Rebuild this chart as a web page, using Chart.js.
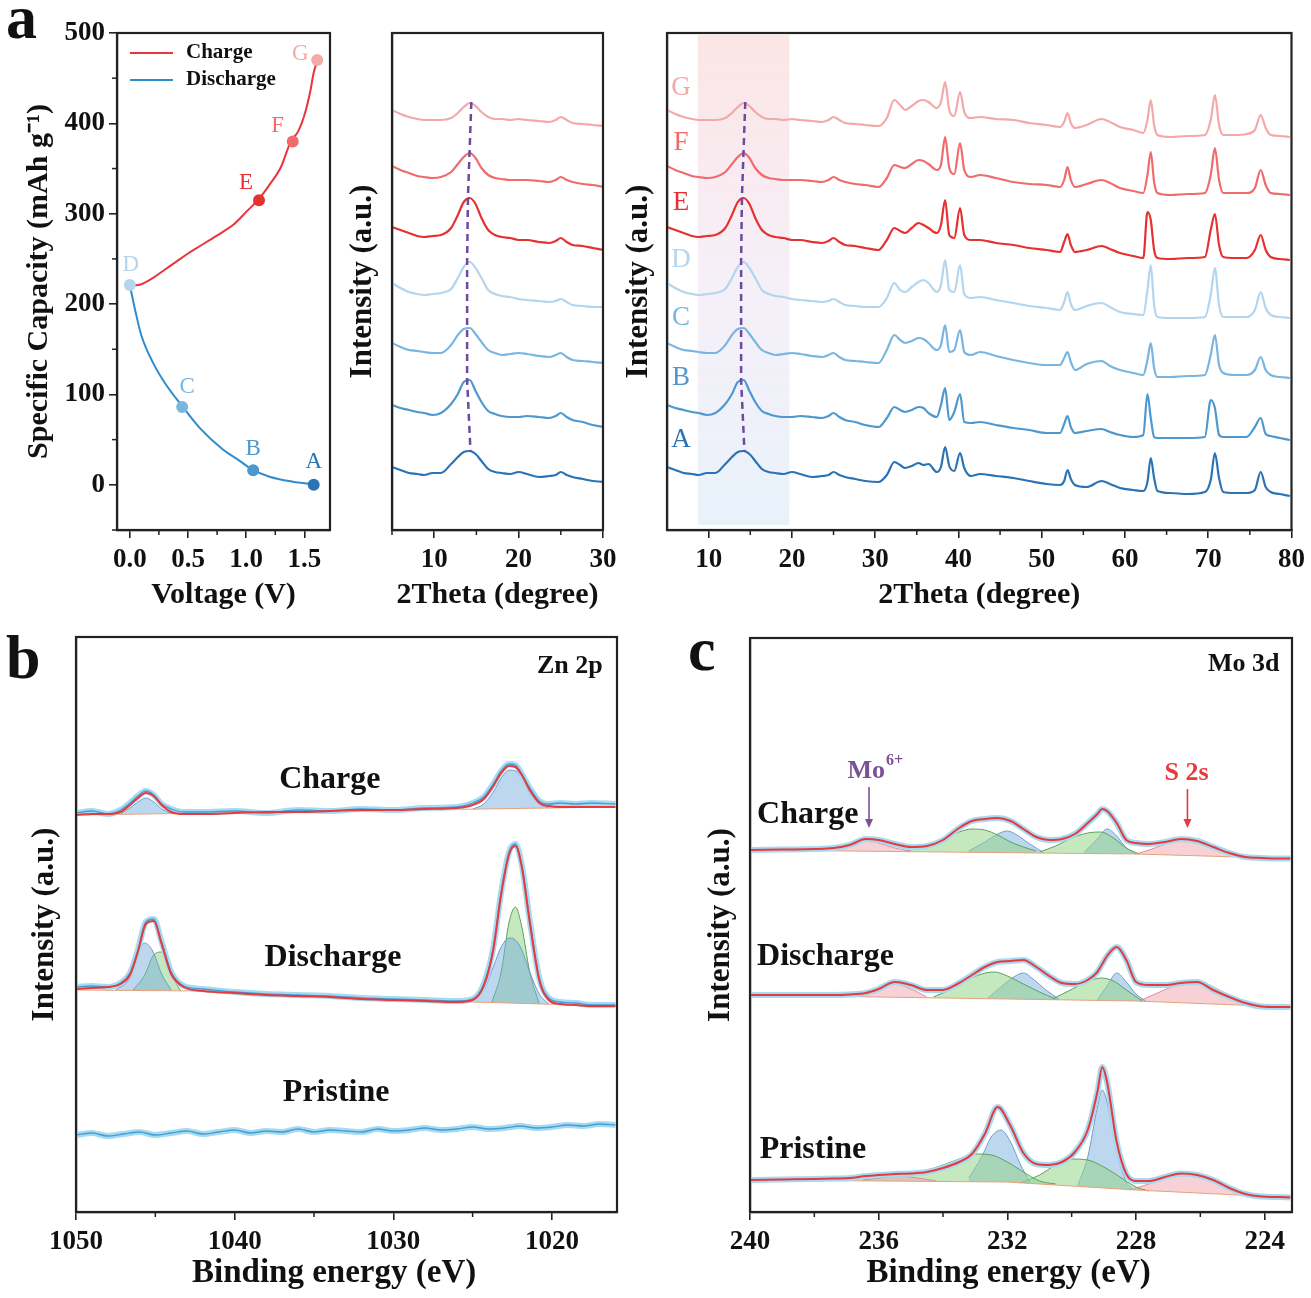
<!DOCTYPE html>
<html>
<head>
<meta charset="utf-8">
<script src="https://cdn.jsdelivr.net/npm/chart.js@4.4.1/dist/chart.umd.min.js"></script>
<style>
  body { margin: 0; background: #fff; }
  #fig { position: relative; width: 1311px; height: 1298px; overflow: hidden; background: #fff; }
  .pane { position: absolute; }
  .tag { position: absolute; font: bold 62px 'Liberation Serif', 'Times New Roman', serif; line-height: 1; color: #111; }
</style>
</head>
<body>
<div id="fig">
  <div class="pane" style="left:0;top:0"><canvas id="capChart" width="340" height="620"></canvas></div>
  <div class="pane" style="left:340px;top:0"><canvas id="xrdNarrow" width="285" height="620"></canvas></div>
  <div class="pane" style="left:620px;top:0"><canvas id="xrdWide" width="691" height="620"></canvas></div>
  <div class="pane" style="left:0;top:620px"><canvas id="znChart" width="650" height="678"></canvas></div>
  <div class="pane" style="left:690px;top:620px"><canvas id="moChart" width="621" height="678"></canvas></div>
  <div class="tag" style="left:6px;top:-14px">a</div>
  <div class="tag" style="left:6px;top:626px">b</div>
  <div class="tag" style="left:688px;top:618px">c</div>
</div>
<script>
// ---------- a: specific capacity vs voltage ----------
const vCharge = [0, 0.1, 0.2, 0.3, 0.4, 0.5, 0.6, 0.7, 0.8, 0.9, 1.0, 1.1, 1.2, 1.3, 1.38, 1.45, 1.5, 1.55, 1.58, 1.61];
const capCharge = [220, 222, 229, 238, 247, 256, 264, 272, 280, 289, 302, 315, 332, 352, 379, 392, 409, 435, 456, 469];
const vDischarge = [0, 0.05, 0.1, 0.2, 0.3, 0.45, 0.6, 0.8, 0.95, 1.05, 1.2, 1.4, 1.58];
const capDischarge = [221, 191, 165, 135, 113, 87, 63, 39, 26, 17, 9, 3.5, 0.5];
const stateNames = ['A', 'B', 'C', 'D', 'E', 'F', 'G'];
const stateV = [1.58, 1.06, 0.45, 0, 1.11, 1.40, 1.61];
const stateCap = [0, 16, 86, 221, 315, 380, 470];
const voltTicks = [0, 0.5, 1.0, 1.5];
const capTicks = [0, 100, 200, 300, 400, 500];

// ---------- a: XRD patterns (A..G), intensity in a.u. ----------
const twoTheta = [5, 6, 7, 8, 8.8, 9.8, 10.8, 12, 12.8, 13.5,
  14.2, 14.9, 15.6, 16.4, 17.2, 18, 19, 20, 21, 22.4,
  23.6, 24.4, 25, 25.7, 26.4, 27.6, 28.8, 30.4, 31.4, 32.3,
  33, 33.6, 34.4, 35.2, 35.8, 36.4, 37.4, 37.9, 38.4, 38.9,
  39.5, 40.2, 40.7, 41.5, 42.6, 44.5, 46.6, 48.5, 50.6, 52.2,
  52.7, 53.1, 53.5, 54, 55.4, 57.2, 58.2, 59.4, 61, 62.2,
  62.7, 63.1, 63.5, 63.9, 65.5, 67.5, 69.6, 70.3, 70.8, 71.3,
  71.8, 73.2, 74.6, 75.6, 76.3, 76.9, 77.5, 78.6, 79.8];
const xrdA = [63, 60, 57, 56, 55, 57, 57, 66, 73, 78,
  79, 76, 69, 61, 58, 57, 56, 58, 56, 53,
  54, 55, 58, 55, 53, 51, 49, 48, 55, 68,
  65, 62, 64, 67, 65, 66, 58, 63, 83, 64,
  59, 77, 62, 54, 56, 54, 52, 49, 46, 45,
  49, 60, 51, 45, 43, 49, 46, 42, 40, 39,
  48, 72, 52, 39, 37, 36, 38, 50, 77, 52,
  38, 37, 37, 40, 58, 43, 38, 36, 34];
const xrdB = [125, 122, 120, 118, 117, 115, 117, 126, 136, 148,
  150, 139, 128, 119, 116, 114, 113, 113, 114, 113,
  112, 114, 117, 113, 110, 108, 105, 103, 112, 123,
  120, 118, 120, 123, 122, 117, 113, 125, 142, 110,
  118, 136, 108, 107, 108, 105, 102, 100, 97, 97,
  106, 114, 103, 97, 99, 101, 98, 95, 93, 95,
  136, 112, 93, 92, 92, 92, 93, 130, 122, 95,
  93, 93, 93, 103, 112, 96, 94, 92, 90];
const xrdC = [187, 183, 180, 179, 178, 177, 177, 185, 195, 201,
  202, 196, 188, 180, 177, 175, 176, 177, 176, 174,
  173, 175, 177, 173, 170, 169, 168, 167, 180, 195,
  190, 187, 189, 192, 191, 187, 180, 185, 205, 178,
  180, 200, 178, 175, 178, 174, 170, 167, 165, 165,
  172, 178, 168, 160, 166, 169, 164, 160, 157, 155,
  170, 187, 162, 153, 153, 154, 155, 175, 195, 165,
  157, 155, 155, 160, 173, 160, 155, 153, 152];
const xrdD = [247, 242, 238, 236, 235, 236, 237, 241, 252, 263,
  268, 262, 252, 240, 236, 234, 233, 231, 230, 229,
  228, 229, 231, 228, 225, 224, 223, 223, 232, 247,
  240, 238, 243, 248, 250, 247, 238, 245, 270, 240,
  238, 265, 236, 232, 233, 230, 227, 224, 222, 220,
  228, 238, 226, 220, 224, 227, 223, 218, 216, 215,
  240, 265, 225, 213, 212, 212, 213, 235, 262, 225,
  213, 213, 213, 220, 238, 222, 215, 213, 212];
const xrdE = [303, 300, 297, 294, 293, 294, 295, 302, 315, 328,
  332, 326, 312, 300, 295, 293, 292, 290, 290, 288,
  287, 289, 292, 288, 285, 284, 282, 280, 290, 302,
  299, 297, 302, 307, 305, 302, 297, 305, 330, 295,
  292, 322, 295, 290, 290, 287, 285, 282, 280, 278,
  288, 296, 285, 278, 280, 284, 281, 277, 274, 272,
  318, 310, 280, 272, 271, 272, 273, 300, 316, 285,
  273, 272, 272, 280, 295, 280, 273, 271, 270];
const xrdF = [364, 360, 357, 354, 353, 352, 353, 358, 366, 373,
  377, 372, 362, 355, 352, 351, 350, 350, 350, 349,
  348, 350, 353, 350, 348, 346, 345, 343, 352, 365,
  363, 362, 366, 370, 369, 366, 360, 365, 393, 362,
  356, 387, 360, 353, 355, 352, 348, 346, 345, 343,
  350, 363, 350, 343, 346, 350, 347, 342, 339, 337,
  355, 378, 348, 337, 335, 336, 337, 355, 382, 350,
  337, 337, 337, 342, 360, 345, 337, 336, 335];
const xrdG = [420, 416, 413, 411, 410, 410, 410, 412, 417, 423,
  427, 424, 418, 413, 411, 411, 410, 411, 410, 409,
  408, 410, 413, 410, 407, 406, 405, 404, 412, 430,
  425, 420, 424, 429, 430, 428, 422, 428, 448, 420,
  414, 438, 418, 412, 413, 411, 410, 407, 405, 403,
  408, 417, 407, 402, 405, 411, 408, 403, 400, 397,
  410, 430, 405, 395, 393, 394, 395, 410, 435, 405,
  395, 395, 396, 400, 415, 402, 395, 394, 393];
const peakLineX = [14.4, 14.0, 13.9, 13.9, 14.3];
const peakLineY = [428, 333, 268, 150, 79];
const thetaTicksNarrow = [10, 20, 30];
const thetaTicksWide = [10, 20, 30, 40, 50, 60, 70, 80];

// ---------- b: Zn 2p ----------
const znX = [1050, 1049, 1048, 1047.2, 1046.6, 1046.1, 1045.6, 1045.1, 1044.6, 1044,
  1043.2, 1042, 1040, 1038, 1036, 1034, 1032, 1030, 1028, 1026,
  1025, 1024.3, 1023.7, 1023.2, 1022.7, 1022.3, 1021.9, 1021.4, 1020.8, 1020.2,
  1019.5, 1018.5, 1017.5, 1016];
const znChargeFit = [397, 398, 398, 400, 407, 414, 419, 416, 407, 400,
  398, 398, 399, 400, 400, 401, 402, 402, 403, 404,
  407, 413, 426, 439, 446, 445, 437, 422, 409, 406,
  405, 405, 405, 405];
const znChargeRaw = [399, 401, 398, 402, 409, 416, 421, 417, 408, 403,
  400, 400, 401, 399, 402, 401, 403, 402, 404, 405,
  409, 415, 428, 441, 448, 447, 438, 424, 411, 408,
  409, 408, 409, 408];
const znDischargeFit = [223, 224, 225, 228, 237, 260, 288, 291, 268, 238,
  225, 221, 219, 217, 216, 215, 213, 212, 211, 210,
  212, 226, 262, 318, 358, 366, 345, 290, 232, 212,
  208, 207, 206, 206];
const znDischargeRaw = [225, 226, 225, 229, 239, 262, 290, 293, 270, 240,
  226, 223, 220, 218, 217, 216, 214, 213, 212, 211,
  213, 228, 264, 320, 360, 368, 347, 292, 234, 214,
  210, 209, 207, 207];
const znPristineX = [1050, 1049, 1048, 1047, 1046, 1045, 1044, 1043, 1042, 1041,
  1040, 1039, 1038, 1037, 1036, 1035, 1034, 1033, 1032, 1031,
  1030, 1029, 1028, 1027, 1026, 1025, 1024, 1023, 1022, 1021,
  1020, 1019, 1018, 1017, 1016];
const znPristineRaw = [77, 79, 76, 78, 80, 77, 79, 81, 78, 80,
  82, 79, 81, 80, 83, 80, 82, 81, 80, 83,
  81, 82, 84, 82, 83, 85, 83, 84, 86, 84,
  85, 87, 86, 88, 87];
const znChgBaseX = [1050, 1016];
const znChgBaseY = [397, 405];
const znChgBlueLX = [1047.2, 1046.6, 1046.1, 1045.6, 1045.1, 1044.6, 1044];
const znChgBlueLY = [398, 404, 410, 414, 410, 403, 399];
const znChgBlueRX = [1025, 1024.3, 1023.7, 1023.2, 1022.7, 1022.3, 1021.9, 1021.4, 1020.8, 1020.2];
const znChgBlueRY = [403, 408, 420, 434, 442, 441, 433, 419, 408, 404];
const znDisBaseX = [1050, 1042, 1025, 1016];
const znDisBaseY = [222, 221, 210, 206];
const znDisBlueLX = [1047.5, 1046.6, 1046.1, 1045.7, 1045.2, 1044.6, 1044];
const znDisBlueLY = [222, 234, 256, 269, 262, 238, 222];
const znDisGreenLX = [1046.4, 1045.7, 1045.1, 1044.6, 1044.1, 1043.4];
const znDisGreenLY = [222, 236, 257, 260, 240, 221];
const znDisBlueRX = [1025, 1024.3, 1023.7, 1023.2, 1022.7, 1022.3, 1021.9, 1021.4, 1020.8, 1020.2];
const znDisBlueRY = [210, 222, 245, 265, 274, 272, 262, 240, 218, 208];
const znDisGreenRX = [1023.8, 1023.2, 1022.7, 1022.3, 1021.9, 1021.4, 1020.8];
const znDisGreenRY = [209, 240, 290, 305, 285, 240, 208];
const znTicks = [1020, 1030, 1040, 1050];

// ---------- c: Mo 3d ----------
const moX = [240, 239, 238, 237.4, 236.9, 236.4, 236, 235.5, 235, 234.5,
  234, 233.5, 233.1, 232.7, 232.3, 231.9, 231.5, 231.1, 230.7, 230.3,
  229.9, 229.5, 229.2, 229.05, 228.9, 228.6, 228.3, 228, 227.6, 227.1,
  226.6, 226.1, 225.6, 225.1, 224.6, 224.1, 223.6, 223.2];
const moChargeFit = [362, 362.5, 363, 364, 367, 373, 372, 368, 365, 366,
  372, 384, 391, 393, 394, 391, 383, 375, 372, 373,
  378, 389, 398, 403, 401, 389, 372, 369, 368, 370,
  373, 371, 365, 359, 355, 354, 353.5, 353.5];
const moDischargeFit = [217, 217, 217, 217, 217.5, 219, 223, 230, 227, 222,
  222, 229, 237, 245, 250, 251, 252, 245, 236, 229,
  228, 232, 240, 248, 256, 265, 252, 230, 227, 227,
  229, 230, 222, 215, 209, 205.5, 205, 205];
const moPristineFit = [32, 32.5, 33, 33.5, 34, 36, 37, 38, 38.5, 40,
  44, 50, 58, 78, 105, 86, 59, 48, 47, 50,
  60, 82, 120, 145, 130, 70, 38, 31, 31, 35,
  38.5, 37, 32, 24, 18, 15.5, 15, 14.5];
const moChgBaseX = [240, 228, 223.2];
const moChgBaseY = [362, 358, 353.5];
const moChgMoX = [237.3, 236.8, 236.4, 236, 235.5, 235];
const moChgMoY = [363, 367, 371, 369, 364, 361];
const moChgG1X = [235.2, 234.5, 234, 233.5, 233.1, 232.7, 232.3, 231.9, 231.5, 231.1];
const moChgG1Y = [361, 366, 373, 380, 383, 382, 377, 370, 365, 361];
const moChgB1X = [233.2, 232.7, 232.3, 232, 231.7, 231.3, 230.9];
const moChgB1Y = [361, 370, 378, 381, 377, 368, 360];
const moChgG2X = [231, 230.5, 230, 229.5, 229.1, 228.7, 228.3, 227.9];
const moChgG2Y = [360, 366, 374, 379, 380, 374, 364, 358];
const moChgB2X = [229.6, 229.2, 228.9, 228.6, 228.3, 228];
const moChgB2Y = [360, 373, 383, 376, 364, 358];
const moChgSX = [228, 227.5, 227, 226.5, 226, 225.5, 225, 224.6];
const moChgSY = [358, 363, 369, 373, 372, 366, 360, 356];
const moDisBaseX = [240, 228, 223.2];
const moDisBaseY = [217, 211, 205];
const moDisMoX = [236.6, 236, 235.5, 235, 234.5];
const moDisMoY = [216, 222, 228, 223, 215];
const moDisG1X = [234.3, 233.8, 233.3, 232.8, 232.4, 232, 231.5, 231, 230.5];
const moDisG1Y = [215, 222, 231, 238, 240, 236, 228, 220, 213];
const moDisB1X = [232.6, 232.2, 231.8, 231.5, 231.2, 230.8, 230.4];
const moDisB1Y = [214, 225, 235, 239, 233, 222, 213];
const moDisG2X = [230.6, 230.1, 229.6, 229.1, 228.7, 228.3, 227.8];
const moDisG2Y = [213, 221, 229, 234, 231, 222, 211];
const moDisB2X = [229.2, 228.9, 228.6, 228.3, 228, 227.7];
const moDisB2Y = [212, 226, 239, 230, 218, 211];
const moDisSX = [227.9, 227.4, 226.9, 226.4, 225.9, 225.4, 224.9, 224.5];
const moDisSY = [211, 218, 225, 230, 229, 222, 213, 208];
const moPriBaseX = [240, 232, 228, 223.2];
const moPriBaseY = [32, 30, 22, 14.5];
const moPriMoX = [237.5, 236.5, 235.8, 235, 234.2];
const moPriMoY = [32, 35, 37, 35, 31];
const moPriG1X = [236.5, 235.5, 234.5, 234, 233.5, 233, 232.5, 232, 231.5, 231, 230.5];
const moPriG1Y = [32, 36, 42, 47, 53, 58, 57, 50, 40, 31, 28];
const moPriB1X = [233.2, 232.8, 232.5, 232.2, 231.9, 231.6, 231.3];
const moPriB1Y = [34, 55, 75, 82, 70, 48, 30];
const moPriG2X = [231.6, 231, 230.5, 230, 229.5, 229, 228.5, 228, 227.6];
const moPriG2Y = [29, 37, 47, 53, 52, 45, 35, 25, 21];
const moPriB2X = [229.8, 229.5, 229.2, 229.05, 228.9, 228.6, 228.3, 228.1];
const moPriB2Y = [27, 55, 105, 122, 110, 60, 30, 23];
const moPriSX = [228.2, 227.6, 227.1, 226.6, 226.1, 225.6, 225.1, 224.6, 224.3];
const moPriSY = [22, 28, 34, 38, 37, 31, 24, 19, 17];
const moTicks = [224, 228, 232, 236, 240];

// ---------- styling ----------
const serif = "'Liberation Serif', 'Times New Roman', serif";
const stateColors = ['#2a74b6', '#4c98cf', '#78b5e0', '#b3d5ee', '#e5312f', '#ef6b6c', '#f5a8a8'];
const compStyle = {
  blue: { fill: 'rgba(122,176,222,0.5)', line: '#6a9fd0' },
  green: { fill: 'rgba(150,214,138,0.55)', line: '#5aa060' },
  pink: { fill: 'rgba(240,164,172,0.5)', line: '#e48c96' }
};
Chart.defaults.font.family = serif;
Chart.defaults.color = '#111';

function pts(xs, ys) { return xs.map((x, i) => ({ x: x, y: ys[i] })); }

// box round the plot area
const framePlugin = {
  id: 'frame',
  afterDraw(chart) {
    const a = chart.chartArea, ctx = chart.ctx;
    ctx.save();
    ctx.strokeStyle = '#222';
    ctx.lineWidth = 2.2;
    ctx.strokeRect(a.left, a.top, a.right - a.left, a.bottom - a.top);
    ctx.restore();
  }
};

// short minor ticks
const minorPlugin = {
  id: 'minor',
  afterDraw(chart, args, o) {
    const ctx = chart.ctx, a = chart.chartArea;
    ctx.save();
    ctx.strokeStyle = '#222';
    ctx.lineWidth = 1.5;
    (o.x || []).forEach(v => {
      const px = chart.scales.x.getPixelForValue(v);
      ctx.beginPath(); ctx.moveTo(px, a.bottom); ctx.lineTo(px, a.bottom + 5); ctx.stroke();
    });
    (o.y || []).forEach(v => {
      const py = chart.scales.y.getPixelForValue(v);
      ctx.beginPath(); ctx.moveTo(a.left, py); ctx.lineTo(a.left - 5, py); ctx.stroke();
    });
    ctx.restore();
  }
};

// text labels and arrows placed in data coordinates
const notesPlugin = {
  id: 'notes',
  afterDatasetsDraw(chart, args, o) {
    const ctx = chart.ctx, sx = chart.scales.x, sy = chart.scales.y;
    (o.items || []).forEach(n => {
      const px = sx.getPixelForValue(n.x) + (n.dx || 0);
      const py = sy.getPixelForValue(n.y) + (n.dy || 0);
      ctx.save();
      ctx.fillStyle = n.color || '#111';
      ctx.strokeStyle = n.color || '#111';
      if (n.arrow) {
        const y2 = sy.getPixelForValue(n.arrow);
        ctx.lineWidth = 1.6;
        ctx.beginPath(); ctx.moveTo(px, py); ctx.lineTo(px, y2 - 6); ctx.stroke();
        ctx.beginPath(); ctx.moveTo(px - 4, y2 - 9); ctx.lineTo(px, y2); ctx.lineTo(px + 4, y2 - 9); ctx.closePath(); ctx.fill();
        ctx.restore();
        return;
      }
      ctx.font = n.font;
      ctx.textBaseline = 'middle';
      if (n.sup) {
        const w1 = ctx.measureText(n.text).width;
        ctx.font = n.supFont;
        const w2 = ctx.measureText(n.sup).width;
        const x0 = px - (w1 + w2) / 2;
        ctx.textAlign = 'left';
        ctx.font = n.font;
        ctx.fillText(n.text, x0, py);
        ctx.font = n.supFont;
        ctx.fillText(n.sup, x0 + w1 + 1, py - 10);
      } else {
        ctx.textAlign = n.align || 'center';
        ctx.fillText(n.text, px, py);
      }
      ctx.restore();
    });
  }
};

// legend inside panel a (capacity)
const capLegendPlugin = {
  id: 'capLegend',
  afterDraw(chart) {
    const ctx = chart.ctx, a = chart.chartArea;
    const rows = [['Charge', '#e8343a', 20], ['Discharge', '#2f8ccd', 47]];
    ctx.save();
    ctx.font = 'bold 21px ' + serif;
    ctx.textBaseline = 'middle';
    rows.forEach(r => {
      ctx.strokeStyle = r[1];
      ctx.lineWidth = 2;
      ctx.beginPath(); ctx.moveTo(a.left + 13, a.top + r[2]); ctx.lineTo(a.left + 56, a.top + r[2]); ctx.stroke();
      ctx.fillStyle = '#111';
      ctx.fillText(r[0], a.left + 69, a.top + r[2]);
    });
    ctx.restore();
  }
};

// highlighted 2theta window in the wide XRD panel
const shadePlugin = {
  id: 'shade',
  beforeDatasetsDraw(chart, args, o) {
    if (!o.x0) return;
    const ctx = chart.ctx, sx = chart.scales.x, sy = chart.scales.y;
    const x0 = sx.getPixelForValue(o.x0), x1 = sx.getPixelForValue(o.x1);
    const y0 = sy.getPixelForValue(o.y1), y1 = sy.getPixelForValue(o.y0);
    const g = ctx.createLinearGradient(0, y0, 0, y1);
    g.addColorStop(0, 'rgba(250,212,212,0.6)');
    g.addColorStop(0.5, 'rgba(238,226,242,0.55)');
    g.addColorStop(1, 'rgba(218,234,248,0.6)');
    ctx.save();
    ctx.fillStyle = g;
    ctx.fillRect(x0, y0, x1 - x0, y1 - y0);
    ctx.restore();
  }
};

const allPlugins = [shadePlugin, framePlugin, minorPlugin, notesPlugin];

function xAxis(min, max, ticks, height, title, opts) {
  opts = opts || {};
  return {
    type: 'linear', min: min, max: max, reverse: !!opts.reverse,
    afterFit: s => { s.height = height; },
    afterBuildTicks: s => { s.ticks = ticks.map(v => ({ value: v })); },
    ticks: { font: { size: 27, weight: 'bold' }, color: '#111', padding: 6, maxRotation: 0,
      callback: opts.fmt || (v => String(v)) },
    grid: { drawOnChartArea: false, tickLength: 8, color: '#222', lineWidth: 1.6 },
    border: { color: '#222', width: 2.2 },
    title: { display: true, text: title, color: '#111', font: { size: opts.titleSize || 30, weight: 'bold' },
      padding: { top: 0, bottom: opts.titlePad || 6 } }
  };
}

function plainY(min, max, width, titlePad) {
  return {
    type: 'linear', min: min, max: max,
    afterFit: s => { s.width = width; },
    ticks: { display: false },
    grid: { display: false },
    border: { color: '#222', width: 2.2 },
    title: { display: true, text: 'Intensity (a.u.)', color: '#111', font: { size: 31, weight: 'bold' }, padding: { top: titlePad, bottom: 0 } }
  };
}

function baseOptions(padding) {
  return {
    responsive: false, animation: false, events: [],
    layout: { padding: padding },
    plugins: { legend: { display: false }, tooltip: { enabled: false } }
  };
}

// ---------- panel a, left ----------
(function () {
  const letterDx = [0, 0, 5, 1, -13, -15, -17];
  const letterDy = [-23, -21, -20, -20, -17, -15, -6];
  const opts = baseOptions({ top: 33, right: 10, left: 0, bottom: 0 });
  opts.scales = {
    x: xAxis(-0.11, 1.72, voltTicks, 90, 'Voltage (V)', { fmt: v => v.toFixed(1), titlePad: 7 }),
    y: {
      type: 'linear', min: -50, max: 500,
      afterFit: s => { s.width = 117; },
      afterBuildTicks: s => { s.ticks = capTicks.map(v => ({ value: v })); },
      ticks: { font: { size: 27, weight: 'bold' }, color: '#111', padding: 4 },
      grid: { drawOnChartArea: false, tickLength: 8, color: '#222', lineWidth: 1.6 },
      border: { color: '#222', width: 2.2 },
      title: { display: true, text: 'Specific Capacity (mAh g\u207B\u00B9)', color: '#111', font: { size: 30, weight: 'bold' }, padding: { top: 21, bottom: 0 } }
    }
  };
  opts.plugins.minor = { x: [0.25, 0.75, 1.25], y: [-50, 50, 150, 250, 350, 450] };
  opts.plugins.notes = {
    items: stateNames.map((n, i) => ({
      text: n, x: stateV[i], y: stateCap[i], dx: letterDx[i], dy: letterDy[i],
      color: stateColors[i], font: '23px ' + serif
    }))
  };
  new Chart(document.getElementById('capChart'), {
    type: 'line',
    data: {
      datasets: [
        { data: pts(stateV, stateCap), showLine: false, pointRadius: 6, pointBorderWidth: 0,
          pointBackgroundColor: stateColors, order: 0 },
        { data: pts(vCharge, capCharge), borderColor: '#e8343a', borderWidth: 2, pointRadius: 0,
          cubicInterpolationMode: 'monotone', order: 1 },
        { data: pts(vDischarge, capDischarge), borderColor: '#2f8ccd', borderWidth: 2, pointRadius: 0,
          cubicInterpolationMode: 'monotone', order: 1 }
      ]
    },
    options: opts,
    plugins: allPlugins.concat([capLegendPlugin])
  });
})();

// ---------- panel a, XRD ----------
const xrdCurves = [xrdA, xrdB, xrdC, xrdD, xrdE, xrdF, xrdG];
function xrdSets() {
  const sets = xrdCurves.map((ys, i) => ({
    data: pts(twoTheta, ys), borderColor: stateColors[i], borderWidth: 2.2, pointRadius: 0,
    cubicInterpolationMode: 'monotone', order: 2
  }));
  sets.push({ data: pts(peakLineX, peakLineY), borderColor: '#6c4a9e', borderDash: [7, 5],
    borderWidth: 2.5, pointRadius: 0, order: 1 });
  return sets;
}

(function () {
  const opts = baseOptions({ top: 33, right: 22, left: 0, bottom: 0 });
  opts.scales = {
    x: xAxis(5, 30, thetaTicksNarrow, 90, '2Theta (degree)', { titlePad: 7 }),
    y: plainY(0, 497, 52, 4)
  };
  opts.plugins.minor = { x: [5, 15, 25] };
  new Chart(document.getElementById('xrdNarrow'), {
    type: 'line', data: { datasets: xrdSets() }, options: opts, plugins: allPlugins
  });
})();

(function () {
  const opts = baseOptions({ top: 33, right: 19, left: 0, bottom: 0 });
  opts.scales = {
    x: xAxis(5, 80, thetaTicksWide, 90, '2Theta (degree)', { titlePad: 7 }),
    y: plainY(0, 497, 47, 0)
  };
  opts.plugins.minor = { x: [15, 25, 35, 45, 55, 65, 75] };
  opts.plugins.shade = { x0: 8.7, x1: 19.7, y0: 5, y1: 495 };
  const labelY = [90, 152, 212, 270, 327, 387, 442];
  opts.plugins.notes = {
    items: stateNames.map((n, i) => ({ text: n, x: 6.68, y: labelY[i], color: stateColors[i], font: '27px ' + serif }))
  };
  new Chart(document.getElementById('xrdWide'), {
    type: 'line', data: { datasets: xrdSets() }, options: opts, plugins: allPlugins
  });
})();

// ---------- XPS helpers ----------
function addSpectrum(sets, spec) {
  const baseIndex = sets.length;
  sets.push({ data: pts(spec.baseX, spec.baseY), borderColor: '#e7a27c', borderWidth: 1,
    pointRadius: 0, order: 6 });
  spec.comps.forEach(c => {
    const st = compStyle[c[2]];
    sets.push({ data: pts(c[0], c[1]), borderColor: st.line, borderWidth: 1, backgroundColor: st.fill,
      fill: baseIndex, pointRadius: 0, cubicInterpolationMode: 'monotone', order: 7 });
  });
  if (spec.rawY) {
    sets.push({ data: pts(spec.rawX, spec.rawY), borderColor: '#a5dbf2', borderWidth: 6, pointRadius: 0,
      cubicInterpolationMode: 'monotone', order: 3 });
    if (spec.inner) {
      sets.push({ data: pts(spec.rawX, spec.rawY), borderColor: '#4a9ad3', borderWidth: 1.3, pointRadius: 0,
        cubicInterpolationMode: 'monotone', order: 2 });
    }
  }
  if (spec.fitY) {
    sets.push({ data: pts(spec.fitX, spec.fitY), borderColor: '#e8393c', borderWidth: 2, pointRadius: 0,
      cubicInterpolationMode: 'monotone', order: 1 });
  }
}

// trailing spaces shift the centred axis title a little to the left, as in the figure
const bindingTitle = 'Binding energy (eV)\u00a0\u00a0\u00a0';

// ---------- panel b ----------
(function () {
  const sets = [];
  addSpectrum(sets, {
    baseX: znChgBaseX, baseY: znChgBaseY, rawX: znX, rawY: znChargeRaw, fitX: znX, fitY: znChargeFit, inner: true,
    comps: [[znChgBlueLX, znChgBlueLY, 'blue'], [znChgBlueRX, znChgBlueRY, 'blue']]
  });
  addSpectrum(sets, {
    baseX: znDisBaseX, baseY: znDisBaseY, rawX: znX, rawY: znDischargeRaw, fitX: znX, fitY: znDischargeFit, inner: true,
    comps: [[znDisBlueLX, znDisBlueLY, 'blue'], [znDisGreenLX, znDisGreenLY, 'green'],
      [znDisBlueRX, znDisBlueRY, 'blue'], [znDisGreenRX, znDisGreenRY, 'green']]
  });
  sets.push({ data: pts(znPristineX, znPristineRaw), borderColor: '#a5dbf2', borderWidth: 6, pointRadius: 0,
    cubicInterpolationMode: 'monotone', order: 3 });
  sets.push({ data: pts(znPristineX, znPristineRaw), borderColor: '#4a9ad3', borderWidth: 1.3, pointRadius: 0,
    cubicInterpolationMode: 'monotone', order: 2 });

  const opts = baseOptions({ top: 17, right: 33, left: 0, bottom: 0 });
  opts.scales = {
    x: xAxis(1015.9, 1050, znTicks, 86, bindingTitle, { reverse: true, titlePad: 5, titleSize: 33 }),
    y: plainY(0, 575, 76, 26)
  };
  opts.plugins.minor = { x: [1025, 1035, 1045] };
  const big = 'bold 32px ' + serif;
  opts.plugins.notes = {
    items: [
      { text: 'Charge', x: 1034, y: 432, font: big },
      { text: 'Discharge', x: 1033.8, y: 254, font: big },
      { text: 'Pristine', x: 1033.6, y: 119, font: big },
      { text: 'Zn 2p', x: 1016.8, y: 546, font: 'bold 26px ' + serif, align: 'right' }
    ]
  };
  new Chart(document.getElementById('znChart'), {
    type: 'line', data: { datasets: sets }, options: opts, plugins: allPlugins
  });
})();

// ---------- panel c ----------
(function () {
  const sets = [];
  addSpectrum(sets, {
    baseX: moChgBaseX, baseY: moChgBaseY, rawX: moX, rawY: moChargeFit, fitX: moX, fitY: moChargeFit,
    comps: [[moChgMoX, moChgMoY, 'pink'], [moChgG1X, moChgG1Y, 'green'], [moChgB1X, moChgB1Y, 'blue'],
      [moChgG2X, moChgG2Y, 'green'], [moChgB2X, moChgB2Y, 'blue'], [moChgSX, moChgSY, 'pink']]
  });
  addSpectrum(sets, {
    baseX: moDisBaseX, baseY: moDisBaseY, rawX: moX, rawY: moDischargeFit, fitX: moX, fitY: moDischargeFit,
    comps: [[moDisMoX, moDisMoY, 'pink'], [moDisG1X, moDisG1Y, 'green'], [moDisB1X, moDisB1Y, 'blue'],
      [moDisG2X, moDisG2Y, 'green'], [moDisB2X, moDisB2Y, 'blue'], [moDisSX, moDisSY, 'pink']]
  });
  addSpectrum(sets, {
    baseX: moPriBaseX, baseY: moPriBaseY, rawX: moX, rawY: moPristineFit, fitX: moX, fitY: moPristineFit,
    comps: [[moPriMoX, moPriMoY, 'pink'], [moPriG1X, moPriG1Y, 'green'], [moPriB1X, moPriB1Y, 'blue'],
      [moPriG2X, moPriG2Y, 'green'], [moPriB2X, moPriB2Y, 'blue'], [moPriSX, moPriSY, 'pink']]
  });

  const opts = baseOptions({ top: 18, right: 19, left: 0, bottom: 0 });
  opts.scales = {
    x: xAxis(223.15, 240, moTicks, 86, bindingTitle, { reverse: true, titlePad: 5, titleSize: 33 }),
    y: plainY(0, 574, 60, 12)
  };
  opts.plugins.minor = { x: [226, 230, 234, 238] };
  const big = 'bold 32px ' + serif;
  opts.plugins.notes = {
    items: [
      { text: 'Charge', x: 239.78, y: 397, font: big, align: 'left' },
      { text: 'Discharge', x: 239.78, y: 255, font: big, align: 'left' },
      { text: 'Pristine', x: 239.7, y: 62, font: big, align: 'left' },
      { text: 'Mo 3d', x: 223.54, y: 548, font: 'bold 26px ' + serif, align: 'right' },
      { text: 'Mo', sup: '6+', x: 236.12, y: 441, font: 'bold 26px ' + serif, supFont: 'bold 16px ' + serif, color: '#7b5296' },
      { text: 'S 2s', x: 226.43, y: 439, font: 'bold 26px ' + serif, color: '#e8393c' },
      { x: 236.3, y: 425, arrow: 384, color: '#7b5296' },
      { x: 226.4, y: 423, arrow: 384, color: '#e8393c' }
    ]
  };
  new Chart(document.getElementById('moChart'), {
    type: 'line', data: { datasets: sets }, options: opts, plugins: allPlugins
  });
})();
</script>
</body>
</html>
